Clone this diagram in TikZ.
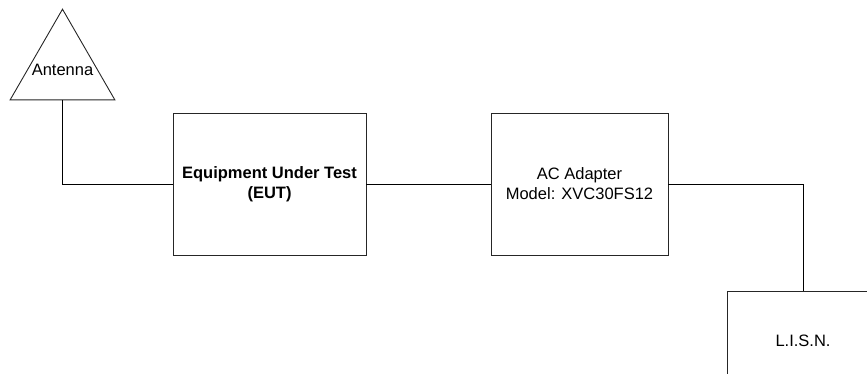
\documentclass[tikz,border=0pt]{standalone}
\usepackage{fontspec}
\setmainfont{Liberation Sans}
\usetikzlibrary{shapes.geometric}
\begin{document}
\begin{tikzpicture}[x=1pt,y=-1pt,
  box/.style={draw=black!85,line width=0.9pt,fill=white,inner sep=0pt,align=center,
    font=\fontsize{16.5}{20}\selectfont},
  wire/.style={draw=black,line width=0.9pt}]
\useasboundingbox (0,0) rectangle (867,374);
\node[regular polygon,regular polygon sides=3,draw=black!85,line width=0.9pt,
  minimum size=121pt,inner sep=0pt,font=\fontsize{16.5}{20}\selectfont]
  (antenna) at (62.5,69.7) {};
\node[font=\fontsize{16.5}{20}\selectfont,inner sep=0pt] (antlabel) at (62.5,70) {Antenna};
\node[box,minimum width=193pt,minimum height=142pt] (eut) at (269.5,184)
  {\bfseries Equipment Under Test\\\bfseries (EUT)};
\node[box,minimum width=177pt,minimum height=142pt] (ac) at (579.5,184)
  {AC Adapter\\Model: XVC30FS12};
\node[box,minimum width=152pt,minimum height=100pt] (lisn) at (803,341) {L.I.S.N.};
\draw[wire] (antenna.south) |- (eut.west);
\draw[wire] (eut.east) -- (ac.west);
\draw[wire] (ac.east) -| (lisn.north);
\end{tikzpicture}
\end{document}
